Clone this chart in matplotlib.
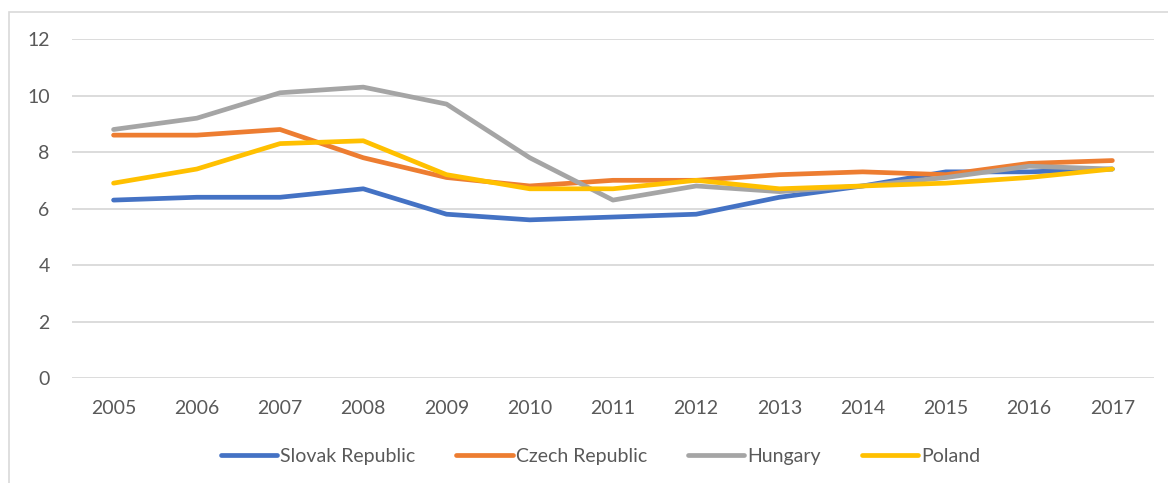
import matplotlib
matplotlib.use("Agg")
import matplotlib.pyplot as plt
from matplotlib.patches import Rectangle

plt.rcParams['font.family'] = ['Lato', 'DejaVu Sans']

years = ["2005", "2006", "2007", "2008", "2009", "2010", "2011",
         "2012", "2013", "2014", "2015", "2016", "2017"]
slovak = [6.3, 6.4, 6.4, 6.7, 5.8, 5.6, 5.7, 5.8, 6.4, 6.8, 7.3, 7.3, 7.4]
czech = [8.6, 8.6, 8.8, 7.8, 7.1, 6.8, 7.0, 7.0, 7.2, 7.3, 7.2, 7.6, 7.7]
hungary = [8.8, 9.2, 10.1, 10.3, 9.7, 7.8, 6.3, 6.8, 6.6, 6.8, 7.1, 7.5, 7.4]
poland = [6.9, 7.4, 8.3, 8.4, 7.2, 6.7, 6.7, 7.0, 6.7, 6.8, 6.9, 7.1, 7.4]

series = [
    ("Slovak Republic", slovak, "#4472C4"),
    ("Czech Republic", czech, "#ED7D31"),
    ("Hungary", hungary, "#A5A5A5"),
    ("Poland", poland, "#FFC000"),
]

fig = plt.figure(figsize=(11.68, 4.83), dpi=100)
ax = fig.add_axes([0.0616, 0.2174, 0.9264, 0.7016])

x = range(len(years))
for name, vals, col in series:
    ax.plot(x, vals, color=col, lw=3.4, label=name, solid_capstyle="round")

ax.set_xlim(-0.5, len(years) - 0.5)
ax.set_ylim(0, 12)
ax.set_yticks(range(0, 13, 2))
ax.set_xticks(list(x))
ax.set_xticklabels(years)
ax.grid(axis="y", color="#D9D9D9", lw=1.3)
ax.set_axisbelow(True)
for s in ax.spines.values():
    s.set_visible(False)
ax.tick_params(length=0, labelsize=14, colors="#595959", pad=16)
ax.tick_params(axis="y", pad=16)

leg = ax.legend(loc="upper center", bbox_to_anchor=(0.4885, -0.155), ncol=4,
                frameon=False, fontsize=14, handlelength=2.9,
                handletextpad=0.15, columnspacing=2.1)
for t in leg.get_texts():
    t.set_color("#595959")

fig.patches.append(Rectangle((0.0077, -0.1), 1.2, 1.075, transform=fig.transFigure,
                             fill=False, edgecolor="#D9D9D9", lw=1.2))

fig.savefig("out.png", dpi=100)
